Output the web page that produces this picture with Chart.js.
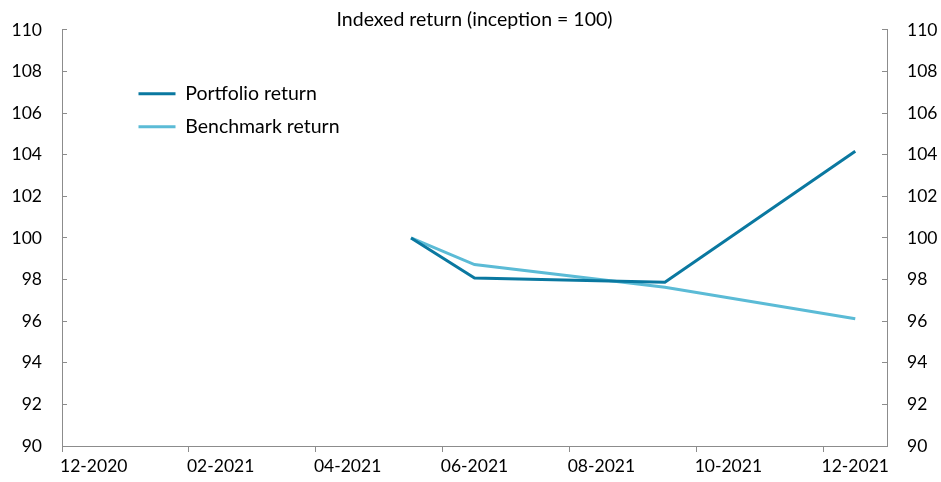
<!DOCTYPE html>
<html>
<head>
<meta charset="utf-8">
<script src="https://cdn.jsdelivr.net/npm/chart.js@4.4.1/dist/chart.umd.min.js"></script>
<style>
  html, body { margin: 0; padding: 0; background: #ffffff; }
  #wrap { width: 941px; height: 482px; position: relative; }
</style>
</head>
<body>
<div id="wrap"><canvas id="c"></canvas></div>
<script>
// Axis categories (one per month, Dec 2020 .. Dec 2021)
const monthLabels = ['12-2020','01-2021','02-2021','03-2021','04-2021','05-2021','06-2021',
                     '07-2021','08-2021','09-2021','10-2021','11-2021','12-2021'];
// Observation months
const obsMonths = ['05-2021','06-2021','09-2021','12-2021'];
// Series values (index, inception = 100)
const portfolioReturn = [100, 98.08, 97.87, 104.17];
const benchmarkReturn = [100, 98.72, 97.63, 96.12];
// Y tick range
const yMin = 90, yMax = 110, yStep = 2;

const FONT = 'Lato, "Open Sans", "Liberation Sans", sans-serif';
const AXIS_GREY = '#8c8c8c';
const DARK = '#0a78a0';
const LIGHT = '#5bbbd6';
const TICK_FONT = { family: FONT, size: 17.5 };

const toPoints = (vals) => obsMonths.map((m, i) => ({ x: m, y: vals[i] }));

const legendShift = {
  id: 'legendShift',
  afterLayout(chart) {
    const lg = chart.legend;
    if (!lg) return;
    const dx = 63;
    lg.left += dx; lg.right += dx;
  }
};

const fixYScale = (scale) => {
  scale.width = 50;
  scale.paddingTop = 10;
  scale.paddingBottom = 10;
};

new Chart(document.getElementById('c'), {
  type: 'line',
  data: {
    labels: monthLabels,
    datasets: [
      { label: 'Portfolio return', data: toPoints(portfolioReturn), borderColor: DARK, backgroundColor: DARK,
        borderWidth: 3, pointRadius: 0, tension: 0, spanGaps: true, yAxisID: 'y' },
      { label: 'Benchmark return', data: toPoints(benchmarkReturn), borderColor: LIGHT, backgroundColor: LIGHT,
        borderWidth: 3, pointRadius: 0, tension: 0, spanGaps: true, yAxisID: 'y' }
    ]
  },
  options: {
    responsive: true,
    maintainAspectRatio: false,
    animation: false,
    layout: { padding: { top: 0, left: 12, right: 4, bottom: 2 } },
    plugins: {
      tooltip: { enabled: false },
      title: {
        display: true,
        text: 'Indexed return (inception = 100)',
        color: '#000',
        font: { family: FONT, size: 19.5, weight: 'normal', lineHeight: 1.2 },
        padding: { top: 8, bottom: -1.5 }
      },
      legend: {
        position: 'chartArea',
        align: 'start',
        title: { display: true, text: '', font: { size: 1, lineHeight: 1 }, padding: { top: 69.5, bottom: 0 } },
        labels: {
          color: '#000',
          font: { family: FONT, size: 19.5 },
          boxWidth: 37,
          boxHeight: 3,
          padding: 13.5,
          generateLabels(chart) {
            const items = Chart.defaults.plugins.legend.labels.generateLabels(chart);
            items.forEach(it => { it.lineWidth = 0; it.fillStyle = it.strokeStyle; });
            return items;
          }
        }
      }
    },
    scales: {
      x: {
        type: 'category',
        offset: true,
        grid: {
          offset: true,
          drawOnChartArea: false,
          drawTicks: true,
          tickLength: 6,
          tickColor: (ctx) => (ctx.index % 2 === 0 && ctx.index < monthLabels.length) ? AXIS_GREY : 'rgba(0,0,0,0)'
        },
        border: { display: true, color: AXIS_GREY, width: 1 },
        ticks: {
          autoSkip: false,
          maxRotation: 0,
          padding: 3.5,
          color: '#000',
          font: TICK_FONT,
          callback: function (v, i) { return i % 2 === 0 ? this.getLabelForValue(v) : ''; }
        }
      },
      y: {
        position: 'left',
        min: yMin, max: yMax,
        afterFit: fixYScale,
        grid: { drawOnChartArea: false, drawTicks: true, tickLength: -5, tickColor: AXIS_GREY },
        border: { display: true, color: AXIS_GREY, width: 1 },
        ticks: { stepSize: yStep, padding: 25, color: '#000', font: TICK_FONT }
      },
      y2: {
        position: 'right',
        min: yMin, max: yMax,
        afterFit: fixYScale,
        grid: { drawOnChartArea: false, drawTicks: true, tickLength: -5, tickColor: AXIS_GREY },
        border: { display: true, color: AXIS_GREY, width: 1 },
        ticks: { stepSize: yStep, padding: 25, color: '#000', font: TICK_FONT }
      }
    }
  },
  plugins: [legendShift]
});
</script>
</body>
</html>
